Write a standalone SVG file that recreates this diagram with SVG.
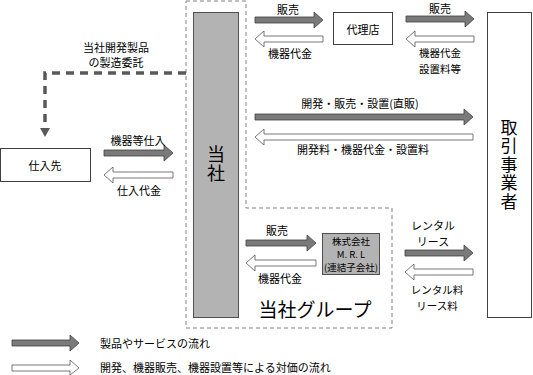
<svg xmlns="http://www.w3.org/2000/svg" width="533" height="375" viewBox="0 0 533 375">
<defs>
<style>
text{font-family:"Noto Sans CJK JP","Noto Sans",sans-serif;fill:#000;text-anchor:middle;dominant-baseline:central;font-size:11px}
.box{fill:#fff;stroke:#404040;stroke-width:1}
.gray{fill:#b3b3b3;stroke:#505050;stroke-width:1}
.dk{fill:#7a7a7a;stroke:#404040;stroke-width:0.8}
.wh{fill:#fff;stroke:#555;stroke-width:0.8}
.grp{fill:none;stroke:#808080;stroke-width:1;stroke-dasharray:4,3}
.lg{text-anchor:start}
.vt{writing-mode:vertical-rl;font-size:18px}
.sm{font-size:10.5px}
</style>
</defs>
<g id="group-boundary">
<path class="grp" d="M186,1 H246 V208 H392 V328 H186 Z"/>
<text x="315" y="308" style="font-size:19px">当社グループ</text>
</g>
<g id="node-shiiresaki">
<rect class="box" x="0.5" y="148.5" width="90" height="33"/>
<text x="45" y="165">仕入先</text>
</g>
<g id="node-tosha">
<rect class="gray" x="193.5" y="12.5" width="45" height="305"/>
<text class="vt" x="216" y="164.5" style="letter-spacing:1px">当社</text>
</g>
<g id="node-dairiten">
<rect class="box" x="333.5" y="12.5" width="59" height="32"/>
<text x="363" y="29">代理店</text>
</g>
<g id="node-mrl">
<rect class="gray" x="322.5" y="233.5" width="57" height="41"/>
<text x="351" y="241" style="font-size:9.5px">株式会社</text>
<text x="351" y="254" style="font-size:9.5px">M. R. L</text>
<text x="351" y="267" style="font-size:9.5px">(連結子会社)</text>
</g>
<g id="node-torihiki">
<rect class="box" x="487.5" y="12.5" width="44" height="305"/>
<text class="vt" x="509" y="165" style="font-size:17px;letter-spacing:1.5px">取引事業者</text>
</g>
<g id="connectors">
<path d="M186,73 H45 V128" fill="none" stroke="#595959" stroke-width="3.5" stroke-dasharray="8,6"/>
<path d="M40,128 H50 L45,137 Z" fill="#595959"/>
<text x="116" y="47">当社開発製品<tspan x="116" dy="15">の製造委託</tspan></text>
<path class="dk" d="M104,150 H164 V145 L173,153 L164,161 V156 H104 Z"/>
<text x="138" y="140">機器等仕入</text>
<path class="wh" d="M104,175 L113,167 V172 H173 V178 H113 V183 Z"/>
<text x="139" y="190">仕入代金</text>
<path class="dk" d="M255,17 H314 V12 L323,20 L314,28 V23 H255 Z"/>
<text x="288" y="9">販売</text>
<path class="wh" d="M255,39 L264,31 V36 H323 V42 H264 V47 Z"/>
<text x="290" y="53">機器代金</text>
<path class="dk" d="M406,16 H465 V11 L474,19 L465,27 V22 H406 Z"/>
<text x="440" y="8">販売</text>
<path class="wh" d="M406,39 L415,31 V36 H474 V42 H415 V47 Z"/>
<text class="sm" x="440" y="52">機器代金<tspan x="440" dy="15.5">設置料等</tspan></text>
<path class="dk" d="M255,114 H464 V109 L473,117 L464,125 V120 H255 Z"/>
<text x="360" y="103">開発・販売・設置(直販)</text>
<path class="wh" d="M255,137 L264,129 V134 H473 V140 H264 V145 Z"/>
<text x="363" y="149">開発料・機器代金・設置料</text>
<path class="dk" d="M246,240 H307 V235 L316,243 L307,251 V246 H246 Z"/>
<text x="277" y="230">販売</text>
<path class="wh" d="M246,263 L255,255 V260 H316 V266 H255 V271 Z"/>
<text x="280" y="278">機器代金</text>
<path class="dk" d="M405,250 H464 V245 L473,253 L464,261 V256 H405 Z"/>
<text x="433" y="225">レンタル<tspan x="433" dy="16">リース</tspan></text>
<path class="wh" d="M405,272 L414,264 V269 H473 V275 H414 V280 Z"/>
<text class="sm" x="437" y="289">レンタル料<tspan x="437" dy="15.5">リース料</tspan></text>
</g>
<g id="legend">
<path class="dk" d="M12,340 H70 V335 L79,343 L70,351 V346 H12 Z"/>
<text class="lg" x="100" y="343">製品やサービスの流れ</text>
<path class="wh" d="M12,365 H70 V360 L79,368 L70,375 V371 H12 Z"/>
<text class="lg" x="100" y="367">開発、機器販売、機器設置等による対価の流れ</text>
</g>
</svg>
